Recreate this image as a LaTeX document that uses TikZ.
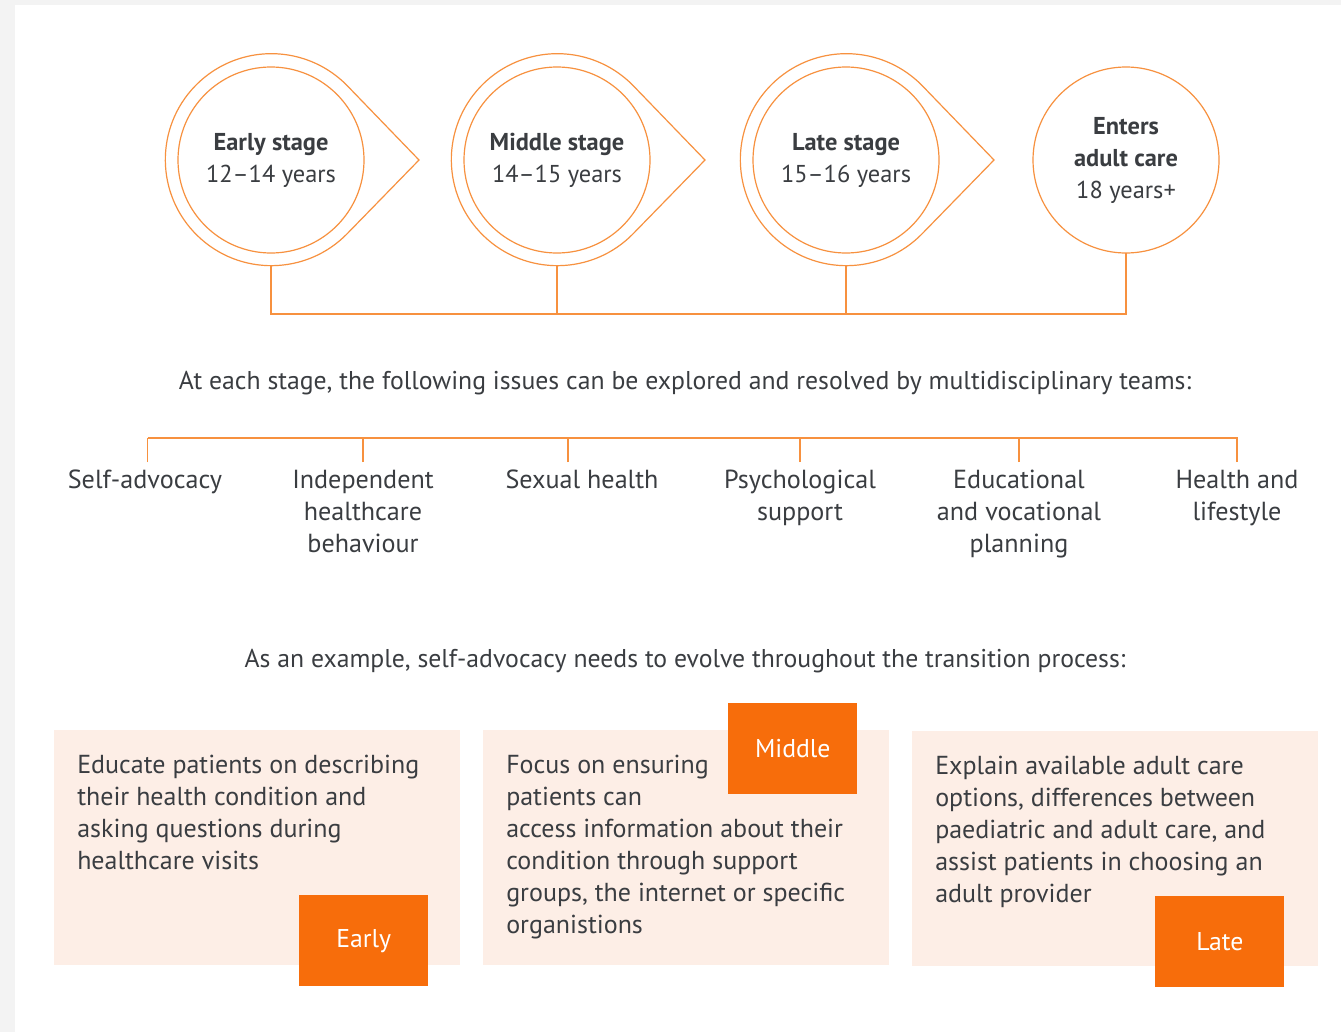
\documentclass[tikz,border=0pt]{standalone}
\usepackage{fontspec}
\setmainfont{PT Sans}
\usetikzlibrary{calc}

\definecolor{lineorange}{HTML}{F7913F}
\definecolor{tagorange}{HTML}{F76D0B}
\definecolor{notefill}{HTML}{FDEEE6}
\definecolor{inkgray}{HTML}{3A3D41}
\definecolor{framegray}{HTML}{F3F3F3}

\tikzset{
	wire/.style={draw=lineorange, line width=1.1pt},
	stage/.style={circle, draw=lineorange, line width=0.9pt, minimum size=139.5pt,
			inner sep=0pt, outer sep=0pt, align=center, text=inkgray,
			font=\fontsize{18.3}{24}\selectfont},
	ring/.style={circle, minimum size=159pt, inner sep=0pt, outer sep=0pt},
	tear/.style={draw=lineorange, line width=0.9pt, line join=miter},
	caption/.style={anchor=base, text=inkgray, font=\fontsize{19.3}{24}\selectfont},
	issue/.style={anchor=north, align=center, inner sep=0pt, text=inkgray,
			font=\fontsize{19.6}{24}\selectfont},
	notebox/.style={fill=notefill, anchor=north west, minimum width=304.5pt,
			minimum height=176.25pt, inner sep=0pt},
	notetext/.style={anchor=north west, align=left, inner sep=0pt, text=inkgray,
			font=\fontsize{19.5}{24}\selectfont},
	tag/.style={fill=tagorange, text=white, minimum width=96.75pt,
			minimum height=68.25pt, inner sep=0pt, font=\fontsize{19.3}{24}\selectfont}
}

\begin{document}
\begin{tikzpicture}[x=0.75pt, y=0.75pt]

		% Page frame
		\useasboundingbox (0,0) rectangle (1341,-1032);
		\fill[framegray] (0,0) rectangle (1341,-1032);
		\fill[white] (15,-5) rectangle (1341,-1032);

		% Stages
		\node[stage] (early) at (271,-160) {\textbf{Early stage}\\12–14 years};
		\node[stage] (middle) at (557,-160) {\textbf{Middle stage}\\14–15 years};
		\node[stage] (late) at (846,-160) {\textbf{Late stage}\\15–16 years};
		\node[stage] (adult) at (1126,-160) {\textbf{Enters}\\\textbf{adult care}\\18 years+};

		% Outer rings with pointers
		\foreach \s in {early,middle,late} {
			\node[ring] (\s-ring) at (\s) {};
			\coordinate (\s-tip) at ([xshift=111pt]\s.center);
			\draw[tear] (\s-ring.-44.25) arc[start angle=-44.25, end angle=-315.75, radius=79.5pt]
				-- (\s-tip) -- cycle;
		}

		% Bus below the stages
		\coordinate (bus) at (0,-314);
		\draw[wire] (early-ring.south) -- (early-ring.south |- bus) -- (adult.south |- bus) -- (adult.south);
		\draw[wire] (middle-ring.south) -- (middle-ring.south |- bus);
		\draw[wire] (late-ring.south) -- (late-ring.south |- bus);

		\node[caption] (intro) at (685,-389) {At each stage, the following issues can be explored and resolved by multidisciplinary teams:};

		% Issues
		\coordinate (tree) at (0,-438);
		\node[issue] (selfadv) at (145,-470) {Self-advocacy};
		\node[issue] (indep) at (363,-470) {Independent\\healthcare\\behaviour};
		\node[issue] (sexual) at (582,-470) {Sexual health};
		\node[issue] (psych) at (800,-470) {Psychological\\support};
		\node[issue] (edu) at (1019,-470) {Educational\\and vocational\\planning};
		\node[issue] (lifestyle) at (1237,-470) {Health and\\lifestyle};

		\draw[wire] ([xshift=2pt]selfadv.north |- tree) -- ([xshift=1pt]lifestyle.north |- tree);
		\draw[wire] ([xshift=2pt,yshift=6pt]selfadv.north) -- ([xshift=2pt]selfadv.north |- tree);
		\foreach \i in {indep,psych,edu,lifestyle}
			\draw[wire] ([yshift=6pt]\i.north) -- (\i.north |- tree);
		\draw[wire] ([xshift=-10.5pt,yshift=6pt]sexual.north) -- ([xshift=-10.5pt]sexual.north |- tree);

		\node[caption] (example) at (685,-667) {As an example, self-advocacy needs to evolve throughout the transition process:};

		% Self-advocacy at each stage
		\node[notebox] (earlybox) at (54,-730) {};
		\node[notebox] (middlebox) at (483,-730) {};
		\node[notebox] (latebox) at (912,-731) {};

		\node[notetext] (earlytxt) at ([shift={(23,-25)}]earlybox.north west)
			{Educate patients on describing\\their health condition and\\asking questions during\\healthcare visits};
		\node[notetext] (middletxt) at ([shift={(23,-25)}]middlebox.north west)
			{Focus on ensuring\\patients can\\access information about their\\condition through support\\groups, the internet or specific\\organistions};
		\node[notetext] (latetxt) at ([shift={(23,-25)}]latebox.north west)
			{Explain available adult care\\options, differences between\\paediatric and adult care, and\\assist patients in choosing an\\adult provider};

		\node[tag, anchor=south east] (earlytag) at ([shift={(-32,-21)}]earlybox.south east) {Early};
		\node[tag, anchor=north east] (middletag) at ([shift={(-32,27)}]middlebox.north east) {Middle};
		\node[tag, anchor=south east] (latetag) at ([shift={(-34,-21)}]latebox.south east) {Late};

	\end{tikzpicture}
\end{document}
